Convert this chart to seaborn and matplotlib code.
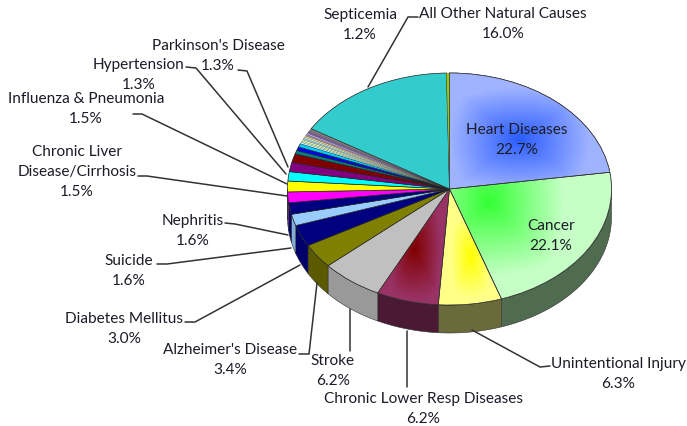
import numpy as np
import matplotlib
matplotlib.use("Agg")
import matplotlib.pyplot as plt
from matplotlib.colors import to_rgb
from matplotlib.patches import Wedge
import seaborn as sns

W, H = 687, 427
CX, CY, RX, RY, DEPTH = 449.5, 190, 162, 116, 28

# slices, clockwise from 12 o'clock
causes = ["Heart Diseases", "Cancer", "Unintentional Injury", "Chronic Lower Resp Diseases", "Stroke",
          "Alzheimer's Disease", "Diabetes Mellitus", "Suicide", "Nephritis", "Chronic Liver Disease/Cirrhosis",
          "Influenza & Pneumonia", "Hypertension", "Parkinson's Disease", "Septicemia",
          "s1", "s2", "s3", "s4", "s5", "s6", "s7", "s8", "s9", "s10", "s11", "s12", "s13", "s14",
          "All Other Natural Causes", "s15"]
shares = [22.7, 22.1, 6.3, 6.2, 6.2, 3.4, 3.0, 1.6, 1.6, 1.5, 1.5, 1.3, 1.3, 1.2,
          0.5, 0.5, 0.5, 0.2, 0.2, 0.2, 0.2, 0.2, 0.2, 0.2, 0.2, 0.2, 0.2, 0.3,
          16.0, 0.3]
slice_colors = ["#9fb3ff", "#c6ffc6", "#ffff88", "#993366", "#c0c0c0", "#808000", "#000080", "#99ccff",
                "#000080", "#ff00ff", "#ffff00", "#00ffff", "#800080", "#800000",
                "#008080", "#0000ff", "#00ccff", "#ccffff", "#ccffcc", "#ffff99", "#99ccff", "#ccffcc",
                "#ffcc99", "#969696", "#cc99ff", "#666699", "#996699", "#808080",
                "#33cccc", "#99cc00"]
wall_colors = {1: "#4f6b50", 2: "#6b6a3a", 3: "#4a1a35", 4: "#999999", 5: "#5c5a00", 6: "#00006a",
               7: "#82add9", 8: "#00006a"}

# slice index: centre x, centre y, reach x, reach y, strong colour (pixels)
gradients = {0: (519, 140, 70, 52, "#2a5cff"),
             1: (488, 203, 75, 75, "#33ff33"),
             2: (470, 258, 20, 42, "#ffff00"),
             3: (414, 250, 26, 52, "#800000")}

# text, centre x, first line y
labels = [("Septicemia\n1.2%", 360, 15), ("All Other Natural Causes\n16.0%", 503, 14),
          ("Parkinson's Disease\n1.3%", 218, 46), ("Hypertension\n1.3%", 139, 65),
          ("Influenza & Pneumonia\n1.5%", 86, 99), ("Chronic Liver\nDisease/Cirrhosis\n1.5%", 77, 152),
          ("Nephritis\n1.6%", 193, 221), ("Suicide\n1.6%", 129, 261),
          ("Diabetes Mellitus\n3.0%", 124, 319), ("Alzheimer's Disease\n3.4%", 230, 350),
          ("Stroke\n6.2%", 333, 361), ("Chronic Lower Resp Diseases\n6.2%", 423, 399),
          ("Unintentional Injury\n6.3%", 618, 364), ("Heart Diseases\n22.7%", 517, 130),
          ("Cancer\n22.1%", 551, 226)]
leaders = [[(418, 18), (408, 18), (368, 88)], [(238, 71), (247, 72), (288, 168)],
           [(186, 68), (196, 69), (286, 175)], [(133, 115), (142, 115), (287, 185)],
           [(138, 177), (147, 177), (287, 197)], [(225, 224), (235, 225), (288, 236)],
           [(157, 265), (167, 265), (291, 249)], [(185, 323), (195, 323), (300, 266)],
           [(299, 355), (309, 355), (317, 284)], [(350, 352), (350, 310)],
           [(407, 388), (407, 332)], [(550, 367), (540, 368), (472, 331)]]


def to_unit(px, py):
    return (px - CX) / RX, (CY - py) / RY


sns.set_theme(style="white")
plt.rcParams["font.family"] = ["Lato", "DejaVu Sans"]

fig = plt.figure(figsize=(W / 100, H / 100), dpi=100)
ax = fig.add_axes([0, 0, 1, 1])
palette = sns.color_palette(slice_colors)
wedges, _ = ax.pie(shares, colors=palette, startangle=90, counterclock=False, radius=1, center=(0, 0),
                   wedgeprops={"edgecolor": "#222222", "linewidth": 0.5, "zorder": 3})
for w, share in zip(wedges, shares):
    if share < 0.4:
        w.set_linewidth(0.15)
ax.set_aspect("auto")
x0, y1 = to_unit(0, 0)
x1, y0 = to_unit(W, H)

# side wall, front half only
depth = DEPTH / RY
for i, w in enumerate(wedges):
    lo = w.theta1 % 360
    hi = lo + (w.theta2 - w.theta1)
    for shift in (0, -360):
        s, e = max(lo + shift, -180), min(hi + shift, 0)
        if e <= s:
            continue
        t = np.radians(np.linspace(s, e, 60))
        xs = np.r_[np.cos(t), np.cos(t[::-1])]
        ys = np.r_[np.sin(t), np.sin(t[::-1]) - depth]
        c = wall_colors.get(i, tuple(0.7 * v for v in to_rgb(slice_colors[i])))
        ax.fill(xs, ys, facecolor=c, edgecolor="#333333", linewidth=0.4, zorder=2)

# gradient fills on the large slices
gx = np.linspace(CX - RX, CX + RX, 330)
gy = np.linspace(CY - RY, CY + RY, 240)
mx, my = np.meshgrid(gx, gy)
for i, (cx, cy, rx, ry, strong) in gradients.items():
    d = np.clip(np.maximum(np.abs(mx - cx) / rx, np.abs(my - cy) / ry) * 0.5
                + np.hypot((mx - cx) / rx, (my - cy) / ry) * 0.5, 0, 1)[..., None]
    img = np.array(to_rgb(strong)) * (1 - d) + np.array(to_rgb(slice_colors[i])) * d
    im = ax.imshow(img, extent=(-1, 1, -1, 1), origin="upper", aspect="auto", zorder=3.1)
    im.set_clip_path(wedges[i])
    ax.add_patch(Wedge((0, 0), 1, wedges[i].theta1, wedges[i].theta2, facecolor="none",
                       edgecolor="#333333", linewidth=0.5, zorder=3.2))
ax.set_xlim(x0, x1)
ax.set_ylim(y0, y1)

# labels and leader lines live in an overlay in image pixels
over = fig.add_axes([0, 0, 1, 1], facecolor="none")
over.set_xlim(0, W)
over.set_ylim(H, 0)
over.axis("off")
for pts in leaders:
    over.plot(*zip(*pts), color="#333333", lw=1.1, solid_joinstyle="miter")
for text, x, y in labels:
    for n, line in enumerate(text.split("\n")):
        over.text(x, y + 20 * n, line, ha="center", va="center", fontsize=11.1, color="#1c1c28")

fig.savefig("out.png", dpi=100, facecolor="white")
